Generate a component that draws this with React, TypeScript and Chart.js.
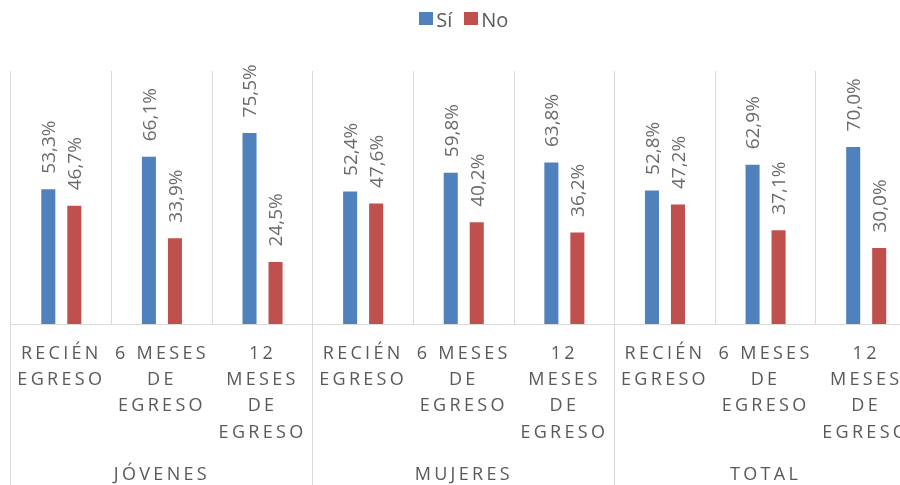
import React, { useEffect, useRef } from 'react';
import { Chart, registerables } from 'chart.js';

Chart.register(...registerables);

// ---- Data ----
const categoryLines: string[][] = [
  ['RECIÉN', 'EGRESO'],
  ['6 MESES', 'DE', 'EGRESO'],
  ['12', 'MESES', 'DE', 'EGRESO'],
  ['RECIÉN', 'EGRESO'],
  ['6 MESES', 'DE', 'EGRESO'],
  ['12', 'MESES', 'DE', 'EGRESO'],
  ['RECIÉN', 'EGRESO'],
  ['6 MESES', 'DE', 'EGRESO'],
  ['12', 'MESES', 'DE', 'EGRESO'],
];
const groupLabels = ['JÓVENES', 'MUJERES', 'TOTAL'];
const groupSize = 3;
const seriesNames = ['Sí', 'No'];
const siValues = [53.3, 66.1, 75.5, 52.4, 59.8, 63.8, 52.8, 62.9, 70.0];
const noValues = [46.7, 33.9, 24.5, 47.6, 40.2, 36.2, 47.2, 37.1, 30.0];
const seriesColors = ['#4F81BD', '#C0504D'];

const FONT = '"Open Sans", sans-serif';
const GRID = '#d9d9d9';
const AXIS_TEXT = '#595959';
const LABEL_TEXT = '#6a6a6a';

const fmt = (v: number) => v.toFixed(1).replace('.', ',') + '%';

const align = (p: number) => Math.round(p - 0.5) + 0.5;

const dataLabelPlugin = {
  id: 'dataLabels',
  afterDatasetsDraw(chart: any) {
    const ctx = chart.ctx;
    ctx.save();
    ctx.font = `19px ${FONT}`;
    ctx.fillStyle = LABEL_TEXT;
    ctx.textAlign = 'left';
    ctx.textBaseline = 'alphabetic';
    chart.data.datasets.forEach((ds: any, di: number) => {
      const meta = chart.getDatasetMeta(di);
      meta.data.forEach((bar: any, i: number) => {
        const v = ds.data[i];
        ctx.save();
        ctx.translate(bar.x, bar.y - 15.5);
        ctx.rotate(-Math.PI / 2);
        ctx.fillText(fmt(v), 0, 6.8);
        ctx.restore();
      });
    });
    ctx.restore();
  },
};

const decorPlugin = {
  id: 'decor',
  afterDraw(chart: any) {
    const ctx = chart.ctx;
    const xs = chart.scales.x;
    const area = chart.chartArea;
    const n = chart.data.labels.length;
    const catW = (area.right - area.left) / n;
    ctx.save();
    // group separators extending down
    ctx.strokeStyle = GRID;
    ctx.lineWidth = 1;
    for (let g = 0; g <= groupLabels.length; g++) {
      const px = align(xs.getPixelForValue(g * groupSize) - catW / 2);
      ctx.beginPath();
      ctx.moveTo(px, area.bottom);
      ctx.lineTo(px, chart.height);
      ctx.stroke();
    }
    // category labels
    ctx.fillStyle = AXIS_TEXT;
    ctx.font = `18px ${FONT}`;
    ctx.letterSpacing = '3.3px';
    ctx.textAlign = 'center';
    ctx.textBaseline = 'alphabetic';
    categoryLines.forEach((lines, i) => {
      const cx = xs.getPixelForValue(i);
      lines.forEach((ln, j) => {
        ctx.fillText(ln, cx, area.bottom + 35 + j * 26.2);
      });
    });
    groupLabels.forEach((g, gi) => {
      const cx =
        (xs.getPixelForValue(gi * groupSize) + xs.getPixelForValue(gi * groupSize + groupSize - 1)) / 2;
      ctx.fillText(g, cx, area.bottom + 156);
    });
    ctx.letterSpacing = '0px';
    // legend
    ctx.font = `20px ${FONT}`;
    ctx.textAlign = 'left';
    const box = 14;
    const gap = 3;
    const itemGap = 12;
    const items = chart.data.datasets.map((ds: any) => ({
      label: ds.label,
      color: ds.backgroundColor,
      w: ctx.measureText(ds.label).width,
    }));
    let total = 0;
    items.forEach((it: any, k: number) => {
      total += box + gap + it.w + (k > 0 ? itemGap : 0);
    });
    let lx = (area.left + area.right) / 2 - total / 2;
    items.forEach((it: any) => {
      ctx.fillStyle = it.color;
      ctx.fillRect(Math.round(lx), 12, box, box - 1);
      ctx.fillStyle = AXIS_TEXT;
      ctx.fillText(it.label, lx + box + gap, 26.5);
      lx += box + gap + it.w + itemGap;
    });
    ctx.restore();
  },
};

export default function App() {
  const ref = useRef<HTMLCanvasElement | null>(null);

  useEffect(() => {
    if (!ref.current) return;
    const chart = new Chart(ref.current, {
      type: 'bar',
      data: {
        labels: categoryLines.map((l) => l.join(' ')),
        datasets: [
          {
            label: seriesNames[0],
            data: siValues,
            backgroundColor: seriesColors[0],
            categoryPercentage: 0.517,
            barPercentage: 0.54,
          },
          {
            label: seriesNames[1],
            data: noValues,
            backgroundColor: seriesColors[1],
            categoryPercentage: 0.517,
            barPercentage: 0.54,
          },
        ],
      },
      options: {
        responsive: false,
        animation: false,
        layout: { padding: { left: 11, right: 8.5, top: 71, bottom: 161 } },
        plugins: {
          legend: { display: false },
          tooltip: { enabled: false },
        },
        scales: {
          x: {
            display: true,
            grid: { offset: true, color: GRID, lineWidth: 1, drawTicks: false },
            border: { color: GRID, width: 1 },
            ticks: { display: false },
          },
          y: {
            display: false,
            min: 0,
            max: 100,
          },
        },
      },
      plugins: [dataLabelPlugin, decorPlugin],
    });
    return () => chart.destroy();
  }, []);

  return (
    <div
      style={{
        position: 'fixed',
        left: 0,
        top: 0,
        width: 900,
        height: 485,
        overflow: 'hidden',
        background: '#ffffff',
      }}
    >
      <canvas ref={ref} width={925} height={485} style={{ display: 'block' }} />
    </div>
  );
}
